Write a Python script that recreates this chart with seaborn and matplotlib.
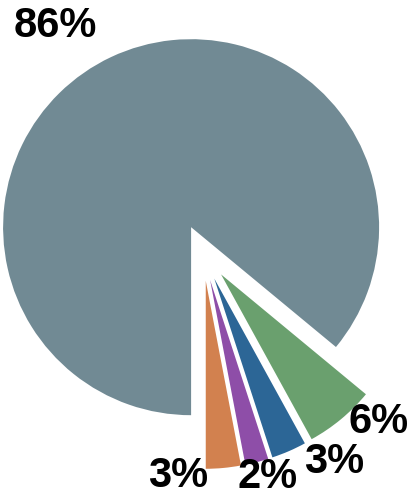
import numpy as np
import matplotlib
matplotlib.use("Agg")
import matplotlib.pyplot as plt
import seaborn as sns

# Share of each category (percent), drawn clockwise from 6 o'clock
categories = ["Main", "Green", "Blue", "Purple", "Orange"]
shares = [86, 6, 3, 2, 3]
pct_labels = ["86%", "6%", "3%", "2%", "3%"]
colors = ["#718a94", "#6aa06e", "#2c6696", "#8e4ea8", "#d2814f"]

sns.set_theme(style="white")
plt.rcParams["font.family"] = ["Liberation Sans", "DejaVu Sans"]

DPI = 100
fig = plt.figure(figsize=(4.11, 4.91), dpi=DPI)
ax = fig.add_axes([0, 0, 1, 1])

wedges, _ = ax.pie(
    shares,
    colors=colors,
    explode=[0.15] * len(shares),
    startangle=270,
    counterclock=False,
    radius=1.0,
    wedgeprops=dict(linewidth=0),
)

# pixel scale: 188 px per unit radius, pie centre at (203, 253) from top-left
px_per_unit = 188.0
cx_px, cy_px = 203.1, 252.7
W, H = 411, 491
ax.set_xlim(-cx_px / px_per_unit, (W - cx_px) / px_per_unit)
ax.set_ylim(-(H - cy_px) / px_per_unit, cy_px / px_per_unit)
ax.set_aspect("auto")
ax.axis("off")

# label placement: offset (px) from the middle of each wedge's outer arc
label_offsets = [(-14, 20), (8, -14), (15, -22), (-19, -26), (-15, -19)]
label_ha = ["right", "left", "left", "left", "right"]

for w, text, (dx, dy), ha in zip(wedges, pct_labels, label_offsets, label_ha):
    mid = np.deg2rad((w.theta1 + w.theta2) / 2)
    x0, y0 = w.center
    ax_pt = (x0 + w.r * np.cos(mid), y0 + w.r * np.sin(mid))
    ax.annotate(
        text, xy=ax_pt, xytext=(dx * 72 / DPI, dy * 72 / DPI),
        textcoords="offset points", ha=ha, va="baseline",
        fontsize=30, fontweight="bold", color="black",
        annotation_clip=False,
    )

fig.savefig("out.png", dpi=DPI)
